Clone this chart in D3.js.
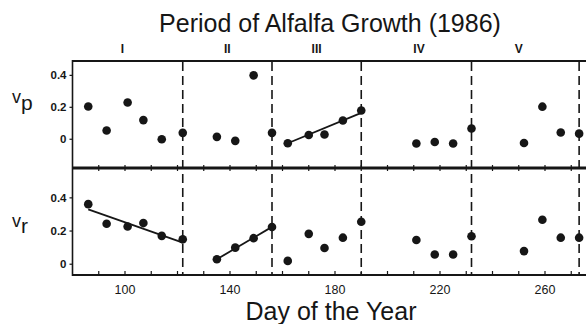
<!DOCTYPE html>
<html>
<head>
<meta charset="utf-8">
<script src="https://cdn.jsdelivr.net/npm/d3@7"></script>
<style>
  body { margin: 0; background: #fff; }
  svg { display: block; font-family: "Liberation Sans", Arial, sans-serif; }
</style>
</head>
<body>
<script>
var width = 586,
    height = 324;

// data
var days = [86, 93, 101, 107, 114, 122, 135, 142, 149, 156, 162, 170, 176, 183, 190,
            211, 218, 225, 232, 252, 259, 266, 273];
var vp = [0.205, 0.055, 0.23, 0.12, 0.0, 0.04, 0.015, -0.01, 0.40, 0.04, -0.025, 0.027, 0.03, 0.117, 0.18,
          -0.027, -0.017, -0.027, 0.067, -0.023, 0.204, 0.042, 0.035];
var vr = [0.362, 0.244, 0.227, 0.248, 0.171, 0.15, 0.03, 0.10, 0.157, 0.224, 0.02, 0.183, 0.098, 0.16, 0.256,
          0.146, 0.059, 0.059, 0.169, 0.079, 0.268, 0.16, 0.16];
var periodEnds = [122, 156, 190, 232, 273];
var periodNames = ["I", "II", "III", "IV", "V"];
var periodLabelDays = [99, 139, 173, 212, 250];
var xTickLabels = [100, 140, 180, 220, 260];
var yTickLabels = [0, 0.2, 0.4];
var fitP = [[[162, -0.025], [190, 0.165]]];
var fitR = [[[86, 0.33], [122, 0.13]], [[135, 0.03], [156, 0.225]]];

var ink = "#161616";

var svg = d3.select("body").append("svg")
    .attr("width", width)
    .attr("height", height);

var x = d3.scaleLinear().domain([80, 276]).range([72.5, 587]);
var yP = d3.scaleLinear().domain([-0.18, 0.49]).range([168, 61]);
var yR = d3.scaleLinear().domain([-0.065, 0.58]).range([275, 168]);

var left = x(80), right = x(276);

// frame
svg.append("line").attr("x1", left).attr("x2", right).attr("y1", 61).attr("y2", 61)
    .attr("stroke", ink).attr("stroke-width", 1.8);
svg.append("line").attr("x1", left).attr("x2", right).attr("y1", 168).attr("y2", 168)
    .attr("stroke", ink).attr("stroke-width", 3);
svg.append("line").attr("x1", left).attr("x2", right).attr("y1", 275).attr("y2", 275)
    .attr("stroke", ink).attr("stroke-width", 2);
svg.append("line").attr("x1", left).attr("x2", left).attr("y1", 60).attr("y2", 276)
    .attr("stroke", ink).attr("stroke-width", 1.6);

// x ticks every 10 days
var minor = d3.range(90, 276, 10);
svg.selectAll(".tb").data(minor).enter().append("line")
    .attr("x1", function (d) { return x(d); }).attr("x2", function (d) { return x(d); })
    .attr("y1", 275).attr("y2", 271)
    .attr("stroke", ink).attr("stroke-width", 1.2);
svg.selectAll(".tm").data(minor).enter().append("line")
    .attr("x1", function (d) { return x(d); }).attr("x2", function (d) { return x(d); })
    .attr("y1", 165).attr("y2", 171)
    .attr("stroke", ink).attr("stroke-width", 1.2);

svg.selectAll(".xl").data(xTickLabels).enter().append("text")
    .attr("x", function (d) { return x(d); })
    .attr("y", 294)
    .attr("text-anchor", "middle")
    .attr("font-size", 12.5)
    .attr("fill", ink)
    .text(function (d) { return d; });

// y ticks
function yTicks(scale) {
    svg.selectAll(null).data(yTickLabels).enter().append("line")
        .attr("x1", left - 3).attr("x2", left)
        .attr("y1", function (d) { return scale(d); }).attr("y2", function (d) { return scale(d); })
        .attr("stroke", ink).attr("stroke-width", 1.2);
    svg.selectAll(null).data(yTickLabels).enter().append("text")
        .attr("x", left - 6)
        .attr("y", function (d) { return scale(d) + 4; })
        .attr("text-anchor", "end")
        .attr("font-size", 11.5)
        .attr("font-weight", "bold")
        .attr("fill", ink)
        .text(function (d) { return d === 0 ? "0" : d3.format(".1f")(d); });
}
yTicks(yP);
yTicks(yR);

// period boundaries
svg.selectAll(".pe").data(periodEnds).enter().append("line")
    .attr("x1", function (d) { return x(d); }).attr("x2", function (d) { return x(d); })
    .attr("y1", 62).attr("y2", 275)
    .attr("stroke", ink).attr("stroke-width", 1.6)
    .attr("stroke-dasharray", "9,5");

svg.selectAll(".pn").data(periodNames).enter().append("text")
    .attr("x", function (d, i) { return x(periodLabelDays[i]); })
    .attr("y", 53)
    .attr("text-anchor", "middle")
    .attr("font-size", 12)
    .attr("font-weight", "bold")
    .attr("fill", ink)
    .text(function (d) { return d; });

// fitted lines
var line = function (scale) {
    return d3.line().x(function (d) { return x(d[0]); }).y(function (d) { return scale(d[1]); });
};
svg.selectAll(".fp").data(fitP).enter().append("path")
    .attr("d", line(yP)).attr("fill", "none").attr("stroke", ink).attr("stroke-width", 1.8);
svg.selectAll(".fr").data(fitR).enter().append("path")
    .attr("d", line(yR)).attr("fill", "none").attr("stroke", ink).attr("stroke-width", 1.8);

// points
svg.selectAll(".dp").data(days).enter().append("circle")
    .attr("cx", function (d) { return x(d); })
    .attr("cy", function (d, i) { return yP(vp[i]); })
    .attr("r", 4.3).attr("fill", ink);
svg.selectAll(".dr").data(days).enter().append("circle")
    .attr("cx", function (d) { return x(d); })
    .attr("cy", function (d, i) { return yR(vr[i]); })
    .attr("r", 4.3).attr("fill", ink);

// axis names
function axisName(yv, sub, ys) {
    var t = svg.append("text").attr("x", 12).attr("y", yv).attr("fill", ink);
    t.append("tspan").attr("font-size", 18).text("v");
    t.append("tspan").attr("font-size", 21).attr("dy", ys).text(sub);
}
axisName(103, "p", 7);
axisName(227, "r", 6);

// titles
svg.append("text")
    .attr("x", 330).attr("y", 32)
    .attr("text-anchor", "middle")
    .attr("font-size", 25)
    .attr("fill", ink)
    .text("Period of Alfalfa Growth (1986)");
svg.append("text")
    .attr("x", 331).attr("y", 320)
    .attr("text-anchor", "middle")
    .attr("font-size", 25)
    .attr("fill", ink)
    .text("Day of the Year");
</script>
</body>
</html>
